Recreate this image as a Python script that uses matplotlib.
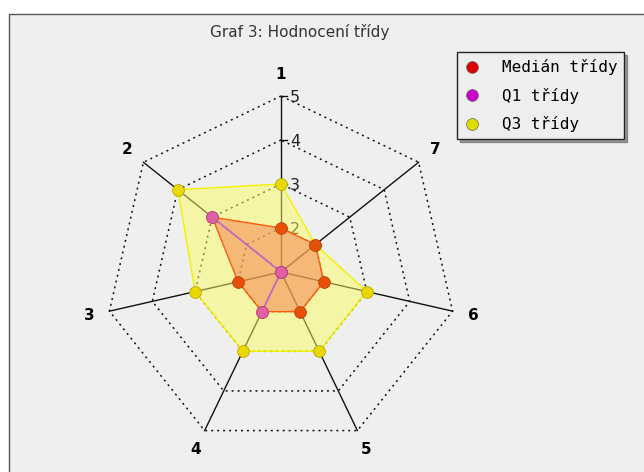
import numpy as np
import matplotlib
matplotlib.use("Agg")
import matplotlib.pyplot as plt
from matplotlib.patches import Rectangle, Polygon
from matplotlib.lines import Line2D

# data
osy = ["1", "2", "3", "4", "5", "6", "7"]
median = [2, 3, 2, 2, 2, 2, 2]
q1 = [1, 3, 1, 2, 1, 1, 1]
q3 = [3, 4, 3, 3, 3, 3, 2]
stupnice = [2, 3, 4, 5]
vmin, vmax = 1, 5

# layout (pixels)
W, H = 644, 472
cx, cy = 281, 272
jednotka = 44.0
bg = "#efefef"

fig = plt.figure(figsize=(W / 100, H / 100), dpi=100)
fig.patch.set_facecolor("white")
ax = fig.add_axes([0, 0, 1, 1])
ax.set_xlim(0, W)
ax.set_ylim(H, 0)
ax.axis("off")

ax.add_patch(Rectangle((9, 14), 700, 500, facecolor=bg, edgecolor="#555555", lw=1, zorder=0))

n = len(osy)
uhly = np.deg2rad(90 + np.arange(n) * 360.0 / n)


def xy(hodnoty):
    r = (np.asarray(hodnoty, dtype=float) - vmin) * jednotka
    return cx + r * np.cos(uhly), cy - r * np.sin(uhly)


# mrizka
for v in stupnice:
    gx, gy = xy([v] * n)
    ax.plot(np.append(gx, gx[0]), np.append(gy, gy[0]), color="#111111", lw=1.1,
            ls=(0, (1.3, 2.6)), zorder=1)
ex, ey = xy([vmax] * n)
lx, ly = xy([vmax + 0.48] * n)
for i in range(n):
    ax.plot([cx, ex[i]], [cy, ey[i]], color="#111111", lw=1, zorder=1)
    ax.text(lx[i], ly[i], osy[i], ha="center", va="center", fontsize=11,
            fontweight="bold", color="black")

# stupnice na prvni ose
for v in stupnice:
    ty = cy - (v - vmin) * jednotka
    ax.plot([cx, cx + 6], [ty, ty], color="#111111", lw=1, zorder=1)
    ax.text(cx + 9, ty + 1, str(v), ha="left", va="center", fontsize=11.5,
            color="#222222", zorder=1)

# serie
x3, y3 = xy(q3)
ax.add_patch(Polygon(np.column_stack([x3, y3]), closed=True, facecolor="#fbfb60",
                     alpha=0.5, edgecolor="none", zorder=2))
ax.add_patch(Polygon(np.column_stack([x3, y3]), closed=True, fill=False,
                     edgecolor="#f2f200", lw=1, zorder=3))
xm, ym = xy(median)
ax.add_patch(Polygon(np.column_stack([xm, ym]), closed=True, facecolor="#f57c48",
                     alpha=0.5, edgecolor="none", zorder=2))
ax.add_patch(Polygon(np.column_stack([xm, ym]), closed=True, fill=False,
                     edgecolor="#ff5a10", lw=1, zorder=3))
x1, y1 = xy(q1)
ax.add_patch(Polygon(np.column_stack([x1, y1]), closed=True, fill=False,
                     edgecolor="#c070c0", lw=1, zorder=3))

ax.plot(x3, y3, "o", ls="none", ms=8.5, mfc="#e8d800", mec="#b0a000", mew=0.5, zorder=4)
ax.plot(xm, ym, "o", ls="none", ms=8.5, mfc="#e8500a", mec="#b03800", mew=0.5, zorder=5)
ax.plot(x1, y1, "o", ls="none", ms=8.5, mfc="#e060a8", mec="#b04080", mew=0.5, zorder=6)

ax.text(300, 32, "Graf 3: Hodnocení třídy", ha="center", va="center",
        fontsize=11, color="#333333")

# legenda
nazvy = ["Medián třídy", "Q1 třídy", "Q3 třídy"]
barvy = ["#dd0000", "#cc00cc", "#dddd00"]
handles = [Line2D([], [], marker="o", ls="none", ms=8.5, mfc=c, mec="#666666", mew=0.5)
           for c in barvy]
leg = ax.legend(handles, nazvy, loc="upper left",
                bbox_to_anchor=(457 / W, 1 - 52 / H), bbox_transform=fig.transFigure,
                borderaxespad=0, frameon=True, fancybox=False, shadow=True,
                prop={"family": "DejaVu Sans Mono", "size": 11.5},
                handlelength=0.95, handletextpad=1.4, labelspacing=0.78,
                borderpad=0.45)
leg.get_frame().set_edgecolor("#222222")
leg.get_frame().set_facecolor("#eeeeee")
leg.get_frame().set_alpha(1)
leg.get_frame().set_linewidth(1)

fig.savefig("out.png", dpi=100)
